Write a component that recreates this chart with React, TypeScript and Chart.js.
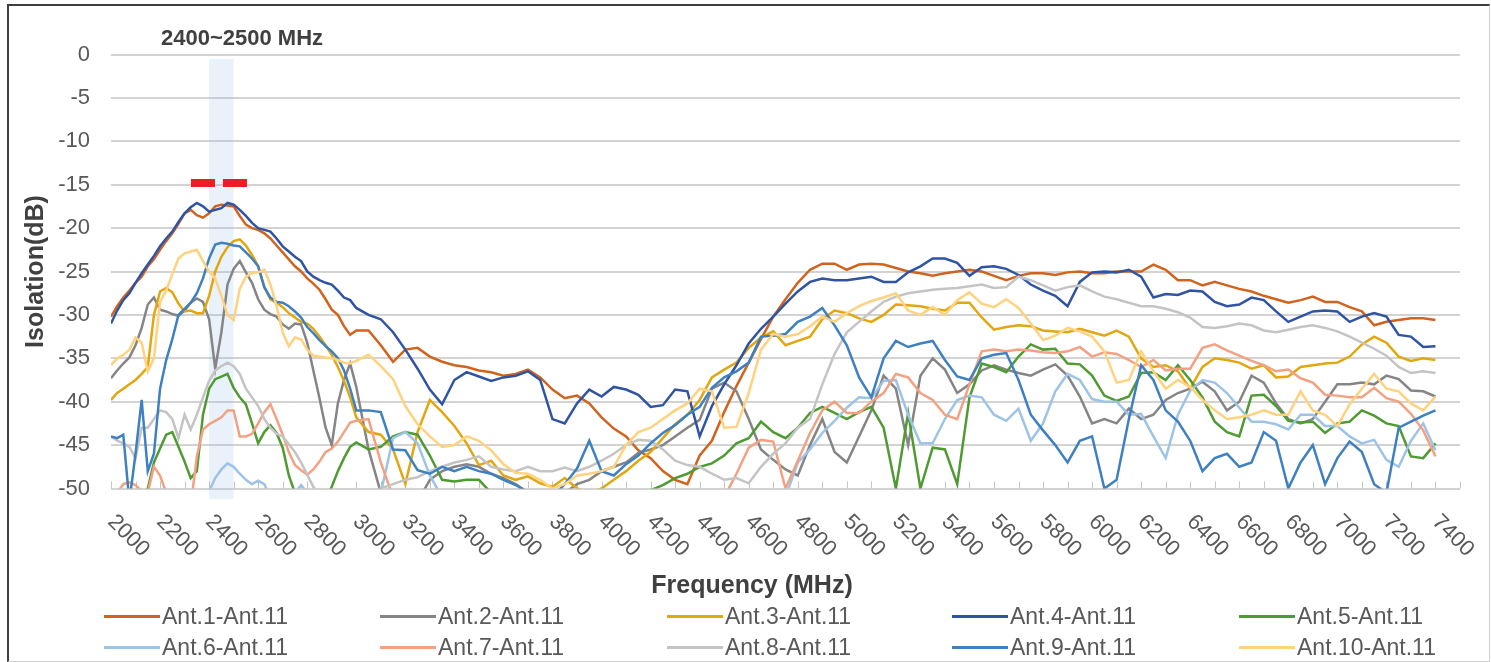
import React, { useEffect, useRef } from 'react';
import { Chart, registerables } from 'chart.js';

Chart.register(...registerables);

// ---------------- data ----------------
const FREQ_MHZ = [
  2000, 2025, 2050, 2075, 2100, 2125, 2150, 2175, 2200, 2225,
  2250, 2275, 2300, 2325, 2350, 2375, 2400, 2425, 2450, 2475,
  2500, 2525, 2550, 2575, 2600, 2625, 2650, 2675, 2700, 2725,
  2750, 2775, 2800, 2825, 2850, 2875, 2900, 2925, 2950, 2975,
  3000,
  3050, 3100, 3150, 3200, 3250, 3300, 3350, 3400, 3450,
  3500, 3550, 3600, 3650, 3700, 3750, 3800, 3850, 3900, 3950,
  4000, 4050, 4100, 4150, 4200, 4250, 4300, 4350, 4400, 4450,
  4500, 4550, 4600, 4650, 4700, 4750, 4800, 4850, 4900, 4950,
  5000, 5050, 5100, 5150, 5200, 5250, 5300, 5350, 5400, 5450,
  5500, 5550, 5600, 5650, 5700, 5750, 5800, 5850, 5900, 5950,
  6000, 6050, 6100, 6150, 6200, 6250, 6300, 6350, 6400, 6450,
  6500, 6550, 6600, 6650, 6700, 6750, 6800, 6850, 6900, 6950,
  7000, 7050, 7100, 7150, 7200, 7250, 7300, 7350, 7400,
];

const ANT1 = [
  -30.2, -29.0, -28.0, -27.2, -26.3, -25.6, -24.4, -23.6, -22.5, -21.5,
  -20.6, -19.5, -18.3, -17.9, -18.5, -18.8, -18.3, -17.5, -17.3, -17.4,
  -17.5, -18.6, -19.6, -20.0, -20.2, -20.6, -21.2, -22.0, -22.8, -23.6,
  -24.4, -25.0, -25.8, -26.4, -27.1, -28.2, -29.4, -30.0, -31.3, -32.3,
  -31.8,
  -31.8, -33.5, -35.4, -34.0, -33.8, -34.8, -35.4, -35.8, -36.0,
  -36.4, -36.6, -37.0, -36.8, -36.3, -37.2, -38.6, -39.6, -39.3, -40.2,
  -41.8, -43.1, -44.0, -45.6, -46.5, -48.0, -49.0, -49.5, -46.2, -44.5,
  -41.2, -38.2, -35.5, -32.8, -30.2, -28.2, -26.3, -24.8, -24.1, -24.1,
  -24.8, -24.2, -24.1, -24.2, -24.6, -25.0, -25.2, -25.5, -25.2, -25.0,
  -24.8, -25.0, -25.5, -26.0, -25.5, -25.2, -25.2, -25.4, -25.1, -25.0,
  -25.2, -25.2, -25.0, -25.0, -25.0, -24.2, -24.8, -26.0, -26.0, -26.6,
  -26.2, -26.6, -27.0, -27.3, -27.8, -28.2, -28.6, -28.3, -27.9, -28.5,
  -28.5, -29.1, -29.6, -31.2, -30.8, -30.6, -30.4, -30.4, -30.6,
];

const ANT2 = [
  -37.3, -36.4, -35.6, -34.9, -33.5, -31.5, -28.8, -28.0, -29.4, -29.6,
  -29.9, -30.1, -29.5, -28.6, -28.1, -28.5, -30.5, -36.2, -32.0, -26.5,
  -24.7, -23.8, -25.1, -26.3, -28.2, -29.4, -29.9, -30.2, -31.1, -31.6,
  -31.0, -31.1, -33.2, -36.4, -39.6, -43.0, -45.0, -40.2, -37.5, -35.6,
  -38.3,
  -45.5, -50.5, -52.0, -53.0, -51.5, -49.0, -48.0, -47.5, -47.2,
  -47.5, -48.3, -48.8, -49.5, -50.5, -51.0, -51.5, -50.5, -49.5, -49.0,
  -48.0, -47.5, -47.0, -45.9, -45.5, -45.0, -44.0, -43.0, -42.1, -38.5,
  -37.8, -38.8, -42.0, -45.5, -46.7, -47.8, -48.5, -45.0, -42.0, -45.8,
  -47.0, -44.0, -41.0, -37.0, -38.5, -45.0, -37.0, -35.0, -36.3, -39.0,
  -38.0, -36.4, -35.8, -36.3, -36.7, -37.0, -36.3, -35.7, -37.0, -39.4,
  -42.5, -42.0, -42.5, -40.8, -42.0, -41.5, -39.8, -39.0, -38.5, -37.7,
  -38.8, -41.0, -40.0, -37.0, -37.8, -40.2, -42.0, -42.5, -42.0, -40.0,
  -38.0, -38.0, -37.8, -38.0, -37.0, -37.4, -38.7, -38.8, -39.4,
];

const ANT3 = [
  -39.8, -39.0, -38.5, -38.0, -37.5, -36.8, -36.0, -30.0, -27.3, -26.9,
  -27.4, -28.7, -29.6, -29.5, -29.8, -29.8, -27.8, -25.0, -23.3, -22.2,
  -21.5, -21.3, -22.0, -23.1, -24.4, -26.8, -28.2, -28.6, -29.1, -29.8,
  -30.3, -30.8, -31.0, -31.6, -32.5, -33.5, -34.6, -36.0, -37.6, -39.5,
  -41.8,
  -43.5, -43.8, -45.5, -49.5, -43.5, -39.8, -41.2, -42.8, -44.8,
  -47.3, -46.8, -48.5, -49.0, -48.6, -49.4, -49.8, -48.8, -50.0, -50.5,
  -50.0, -49.0, -48.0, -46.8, -45.8, -44.2, -42.6, -41.5, -39.8, -37.2,
  -36.3, -35.5, -33.8, -32.6, -31.9, -33.5, -33.0, -32.5, -30.5, -29.5,
  -29.8, -30.4, -30.8, -30.0, -28.8, -28.9, -29.0, -29.3, -29.5, -28.6,
  -28.6, -30.3, -31.7, -31.4, -31.2, -31.3, -31.8, -31.9, -32.0, -31.6,
  -32.0, -32.4, -31.8, -32.5, -35.0, -36.0, -35.8, -36.5, -38.5, -36.0,
  -35.0, -35.2, -35.5, -36.2, -35.8, -37.2, -37.1, -36.0, -35.8, -35.6,
  -35.5, -34.8, -33.4, -32.5, -33.2, -34.8, -35.3, -35.0, -35.2,
];

const ANT4 = [
  -31.0, -29.5, -28.3, -27.5, -26.3, -25.2, -24.2, -23.2, -22.1, -21.2,
  -20.4, -19.3, -18.3, -17.6, -17.1, -17.5, -18.1, -17.9, -17.7, -17.1,
  -17.3, -17.9, -18.6, -19.4, -20.0, -20.2, -20.4, -21.2, -22.1, -22.7,
  -23.3, -23.8, -25.0, -25.6, -26.0, -26.3, -26.5, -27.2, -28.0, -28.3,
  -29.2,
  -30.0, -30.5, -32.0, -34.0, -36.2, -38.6, -40.3, -37.5, -36.6,
  -37.1, -37.6, -37.2, -37.0, -36.5, -37.5, -42.0, -42.5, -40.2, -38.6,
  -39.4, -38.3, -38.6, -39.2, -40.6, -40.4, -38.6, -38.8, -44.0, -40.5,
  -38.0, -35.8, -33.3, -31.6, -30.2, -28.7, -27.3, -26.2, -25.8, -26.0,
  -26.0, -25.8, -25.6, -26.2, -26.2, -25.1, -24.4, -23.5, -23.5, -24.0,
  -25.5, -24.5, -24.4, -24.7, -25.4, -26.5, -27.2, -27.8, -29.0, -26.2,
  -25.1, -25.0, -25.1, -24.8, -25.6, -28.0, -27.6, -27.7, -27.2, -27.3,
  -28.5, -29.0, -28.8, -28.0, -28.3, -29.6, -30.8, -30.2, -29.6, -29.5,
  -29.6, -30.8, -30.2, -29.8, -30.2, -32.3, -32.5, -33.7, -33.6,
];

const ANT5 = [
  -54.0, -54.0, -54.0, -54.0, -53.0, -52.0, -50.0, -47.0, -45.4, -43.8,
  -43.5, -45.2, -46.9, -48.8, -48.0, -41.5, -38.5, -37.4, -37.1, -36.8,
  -38.4, -39.5, -40.3, -42.5, -44.8, -43.5, -42.7, -43.6, -45.3, -48.5,
  -50.5, -52.0, -53.0, -53.0, -52.5, -51.5, -49.8, -48.0, -46.5, -45.2,
  -44.7,
  -45.5, -45.2, -44.0, -43.5, -43.8, -46.2, -49.0, -49.2, -49.0,
  -49.0, -50.5, -51.5, -52.0, -52.5, -52.5, -52.0, -51.5, -51.5, -51.0,
  -51.0, -51.0, -50.8, -50.5, -50.2, -49.6, -48.8, -48.3, -47.5, -47.1,
  -46.2, -44.8, -44.2, -42.3, -43.5, -44.2, -43.0, -41.3, -40.6, -41.3,
  -42.0, -41.2, -40.6, -43.0, -50.0, -41.3, -50.0, -45.3, -45.5, -49.5,
  -39.5, -35.6, -36.0, -36.6, -34.8, -33.4, -34.0, -33.9, -35.6, -35.7,
  -37.0, -39.3, -39.9, -39.4, -36.7, -36.6, -37.5, -35.8, -37.5, -39.5,
  -42.3, -43.5, -44.0, -39.3, -39.2, -40.5, -42.2, -42.4, -42.3, -43.6,
  -42.5, -42.3, -41.0, -41.6, -42.5, -42.8, -46.3, -46.5, -44.8,
];

const ANT6 = [
  -55.0, -55.0, -55.0, -55.0, -55.0, -55.0, -55.0, -55.0, -55.0, -55.0,
  -55.0, -55.0, -54.0, -53.0, -52.5, -52.0, -50.3, -48.8, -47.8, -47.1,
  -47.5, -48.3, -49.0, -49.5, -49.1, -49.5, -51.0, -53.0, -53.0, -52.0,
  -50.5, -49.6, -50.5, -52.0, -54.0, -54.0, -54.0, -54.0, -54.0, -54.0,
  -54.0,
  -53.0, -50.5, -44.2, -43.5, -44.8, -48.5, -51.0, -54.0, -54.0,
  -54.0, -54.0, -54.0, -54.0, -54.0, -54.0, -54.0, -54.0, -54.0, -54.0,
  -54.0, -54.0, -54.0, -54.0, -54.0, -54.0, -54.0, -54.0, -54.0, -53.0,
  -52.0, -50.5, -50.5, -51.0, -52.0, -51.0, -47.0, -45.5, -43.6, -42.2,
  -40.7, -39.5, -39.6, -37.6, -37.5, -41.5, -44.8, -44.8, -42.0, -39.8,
  -39.3, -39.5, -41.5, -42.2, -40.8, -44.5, -42.5, -38.8, -36.8, -37.5,
  -39.7, -40.0, -40.0, -41.5, -41.4, -44.0, -46.5, -41.5, -38.7, -37.5,
  -37.8, -39.0, -40.7, -42.3, -42.3, -42.6, -43.2, -41.5, -41.5, -42.8,
  -42.8, -44.0, -44.8, -44.4, -46.7, -47.5, -44.5, -42.5, -45.6,
];

const ANT7 = [
  -51.0, -50.5, -49.5, -49.3, -49.6, -50.3, -50.5, -47.5, -48.5, -50.5,
  -53.0, -54.0, -54.0, -52.0, -46.3, -43.2, -42.6, -42.2, -41.8, -41.0,
  -41.0, -44.0, -44.0, -43.7, -42.5, -41.2, -40.3, -42.0, -43.8, -45.8,
  -47.3, -47.9, -48.4, -47.8, -46.9, -45.8, -45.4, -44.6, -43.5, -42.4,
  -42.2,
  -42.0, -47.0, -51.0, -53.0, -54.0, -54.0, -54.0, -54.0, -54.0,
  -54.0, -54.0, -54.0, -54.0, -54.0, -54.0, -54.0, -54.0, -54.0, -54.0,
  -54.0, -54.0, -54.0, -54.0, -54.0, -54.0, -54.0, -54.0, -54.0, -53.0,
  -51.0, -48.3, -45.3, -44.4, -44.6, -50.0, -46.8, -43.6, -41.0, -40.0,
  -41.3, -41.3, -40.0, -39.0, -36.8, -37.2, -39.0, -39.8, -41.5, -42.0,
  -38.0, -34.2, -34.0, -34.2, -34.0, -34.1, -34.3, -34.4, -34.2, -33.7,
  -34.8, -34.3, -34.5, -35.2, -36.0, -35.2, -36.4, -36.2, -36.2, -33.8,
  -33.4, -34.1, -34.7, -35.3, -35.8, -36.5, -36.3, -37.3, -37.8, -39.2,
  -39.3, -39.5, -39.5, -38.4, -39.6, -40.0, -41.4, -43.3, -46.3,
];

const ANT8 = [
  -44.0, -44.5, -44.8, -45.2, -46.5, -43.0, -43.0, -42.0, -41.0, -41.2,
  -42.0, -44.2, -41.5, -43.2, -41.5, -39.5, -37.6, -36.4, -35.9, -35.5,
  -35.9, -36.8, -38.5, -39.5, -40.5, -42.0, -43.0, -43.7, -44.0, -44.9,
  -45.8, -47.0, -48.4, -49.8, -50.8, -51.2, -51.5, -51.2, -50.8, -50.8,
  -51.0,
  -50.5, -50.0, -49.5, -49.0, -48.7, -48.0, -47.5, -47.0, -46.7,
  -46.3, -47.5, -47.8, -48.0, -47.5, -48.0, -48.0, -47.6, -48.0, -47.5,
  -46.8, -46.0, -45.0, -44.4, -44.5, -45.5, -46.8, -47.3, -47.5, -48.3,
  -49.0, -48.8, -49.4, -47.5, -46.0, -44.8, -43.0, -42.0, -38.0, -34.5,
  -32.0, -30.8, -29.6, -28.5, -27.9, -27.5, -27.3, -27.1, -27.0, -26.9,
  -26.7, -26.5, -26.9, -26.8, -25.6, -26.0, -26.6, -27.2, -26.8, -26.6,
  -27.3, -27.9, -28.2, -28.6, -29.0, -29.0, -29.3, -29.7, -30.3, -31.4,
  -31.5, -31.3, -31.0, -31.2, -31.8, -32.0, -31.7, -31.4, -31.2, -31.5,
  -31.9, -32.5, -33.2, -33.9, -34.7, -36.0, -36.7, -36.5, -36.7,
];

const ANT9 = [
  -44.0, -44.2, -43.8, -51.5, -46.0, -39.8, -48.0, -46.0, -38.5, -35.2,
  -32.8, -30.0, -29.3, -28.6, -27.5, -25.8, -23.5, -21.9, -21.7, -21.8,
  -22.0, -22.1, -22.8, -23.5, -24.4, -26.8, -28.0, -28.5, -28.6, -29.0,
  -29.6, -30.3, -31.4, -32.1, -32.9, -33.6, -34.2, -35.0, -36.4, -38.5,
  -41.0,
  -41.0, -41.2, -45.5, -45.6, -47.9, -48.3, -47.5, -48.0, -47.5,
  -48.0, -48.3, -49.0, -49.6, -50.4, -51.0, -51.0, -49.5, -47.7, -44.5,
  -48.0, -48.5, -47.2, -46.2, -44.8, -43.6, -42.7, -41.5, -40.6, -38.4,
  -37.2, -36.5, -35.5, -32.5, -32.4, -32.2, -30.8, -30.2, -29.2, -31.2,
  -33.5, -37.2, -39.5, -35.0, -33.0, -33.7, -33.3, -33.0, -35.2, -37.1,
  -37.5, -35.0, -34.6, -34.4, -37.5, -41.5, -43.3, -45.0, -47.0, -44.5,
  -44.0, -50.0, -49.0, -42.0, -35.8, -37.5, -41.0, -42.3, -44.5, -48.0,
  -46.5, -46.0, -47.5, -47.0, -43.5, -44.5, -50.0, -47.0, -45.0, -49.5,
  -46.5, -44.6, -45.8, -49.5, -50.5, -43.0, -42.3, -41.6, -41.0,
];

const ANT10 = [
  -35.8, -35.0, -34.6, -34.0, -32.6, -33.2, -36.5, -35.0, -28.5, -27.2,
  -25.3, -23.5, -22.9, -22.7, -22.5, -23.8, -25.0, -25.8, -27.8, -30.0,
  -30.6, -27.0, -25.6, -25.2, -25.1, -24.8, -26.5, -29.0, -32.0, -33.6,
  -32.6, -32.8, -34.0, -34.7, -34.8, -34.9, -35.0, -35.2, -35.5, -35.6,
  -35.3,
  -34.6, -35.9, -37.4, -40.5, -42.6, -44.0, -45.2, -45.0, -44.0,
  -44.5, -45.6, -47.2, -48.2, -48.3, -49.0, -50.0, -49.5, -48.5, -48.3,
  -48.0, -47.5, -45.0, -43.5, -43.0, -42.0, -41.0, -40.2, -38.5, -38.8,
  -43.0, -42.9, -39.0, -34.0, -32.2, -32.5, -32.2, -31.3, -30.2, -30.8,
  -29.8, -29.0, -28.4, -28.0, -27.5, -29.5, -30.0, -29.1, -30.0, -28.3,
  -27.4, -28.7, -29.1, -28.2, -29.2, -31.0, -32.9, -32.4, -31.5, -31.9,
  -32.5, -34.2, -37.8, -37.5, -34.2, -36.5, -38.5, -37.5, -38.3, -39.8,
  -41.0, -42.0, -41.8, -41.5, -41.0, -41.5, -41.5, -38.8, -41.0, -41.5,
  -42.8, -40.3, -38.5, -36.8, -38.5, -38.8, -40.2, -41.0, -39.4,
];

const SERIES_NAMES = [
  'Ant.1-Ant.11', 'Ant.2-Ant.11', 'Ant.3-Ant.11', 'Ant.4-Ant.11', 'Ant.5-Ant.11',
  'Ant.6-Ant.11', 'Ant.7-Ant.11', 'Ant.8-Ant.11', 'Ant.9-Ant.11', 'Ant.10-Ant.11',
];
const SERIES_VALUES = [ANT1, ANT2, ANT3, ANT4, ANT5, ANT6, ANT7, ANT8, ANT9, ANT10];
const SERIES_COLORS = [
  '#D0641E', '#858585', '#E2A70F', '#2F54A4', '#4F9A32',
  '#9DC3E6', '#F2A283', '#C4C4C4', '#3F80C0', '#FFD27F',
];

const X_TICKS = [
  2000, 2200, 2400, 2600, 2800, 3000, 3200, 3400, 3600, 3800, 4000, 4200, 4400, 4600,
  4800, 5000, 5200, 5400, 5600, 5800, 6000, 6200, 6400, 6600, 6800, 7000, 7200, 7400,
];
const Y_TICKS = [0, -5, -10, -15, -20, -25, -30, -35, -40, -45, -50];

const BAND_MHZ = [2400, 2500];
const BAND_DB = [-0.5, -51.2];
const BAND_LABEL = '2400~2500 MHz';
const MARKER_MHZ = [2326, 2555];
const MARKER_DB = -14.8;

const X_TITLE = 'Frequency (MHz)';
const Y_TITLE = 'Isolation(dB)';

// legend layout (5 columns x 2 rows)
const LEGEND_COL_LEFT = [104, 380, 667, 952, 1239];
const LEGEND_ROW_TOP = [601, 632];

// ---------------- drawing ----------------
const FONT = '"Liberation Sans", Arial, sans-serif';

const decorPlugin = {
  id: 'decor',
  beforeDatasetsDraw(chart: any) {
    const { ctx, chartArea } = chart;
    const x = chart.scales.x;
    const y = chart.scales.y;
    ctx.save();
    const bx0 = x.getPixelForValue(BAND_MHZ[0]);
    const bx1 = x.getPixelForValue(BAND_MHZ[1]);
    const by0 = y.getPixelForValue(BAND_DB[0]);
    const by1 = y.getPixelForValue(BAND_DB[1]);
    ctx.fillStyle = 'rgba(157,195,230,0.22)';
    ctx.fillRect(bx0, by0, bx1 - bx0, by1 - by0);

    ctx.strokeStyle = '#C4C4C4';
    ctx.lineWidth = 1;
    for (let v = x.min; v <= x.max + 0.1; v += 100) {
      const px = Math.round(x.getPixelForValue(v)) + 0.5;
      ctx.beginPath();
      ctx.moveTo(px, chartArea.bottom - 7);
      ctx.lineTo(px, chartArea.bottom);
      ctx.stroke();
    }
    ctx.restore();
  },
  afterDraw(chart: any) {
    const { ctx, chartArea } = chart;
    const x = chart.scales.x;
    const y = chart.scales.y;
    ctx.save();
    ctx.fillStyle = '#595959';
    ctx.font = `22px ${FONT}`;
    ctx.textAlign = 'right';
    ctx.textBaseline = 'middle';
    Y_TICKS.forEach((v) => {
      ctx.fillText(String(v), chartArea.left - 21, y.getPixelForValue(v));
    });
    ctx.textAlign = 'left';
    X_TICKS.forEach((v) => {
      ctx.save();
      ctx.translate(x.getPixelForValue(v), chartArea.bottom + 30);
      ctx.rotate(Math.PI / 4);
      ctx.fillText(String(v), 0, 0);
      ctx.restore();
    });
    ctx.fillStyle = '#404040';
    ctx.font = `bold 25px ${FONT}`;
    ctx.textAlign = 'center';
    ctx.fillText(X_TITLE, 752, 586);
    ctx.save();
    ctx.translate(36, (chartArea.top + chartArea.bottom) / 2);
    ctx.rotate(-Math.PI / 2);
    ctx.fillText(Y_TITLE, 0, 0);
    ctx.restore();
    ctx.font = `bold 22px ${FONT}`;
    ctx.textAlign = 'left';
    ctx.fillText(BAND_LABEL, 161, 39);
    ctx.restore();
  },
};

export default function App() {
  const ref = useRef<HTMLCanvasElement>(null);

  useEffect(() => {
    const canvas = ref.current;
    if (!canvas) return;
    const datasets: any[] = SERIES_VALUES.map((vals, i) => ({
      label: SERIES_NAMES[i],
      data: FREQ_MHZ.map((f, k) => ({ x: f, y: vals[k] })),
      borderColor: SERIES_COLORS[i],
      backgroundColor: SERIES_COLORS[i],
      borderWidth: 2.5,
      pointRadius: 0,
      tension: 0,
      order: SERIES_VALUES.length - i,
    }));
    datasets.push({
      label: 'limit',
      data: MARKER_MHZ.map((f) => ({ x: f, y: MARKER_DB })),
      borderColor: '#EE1C24',
      borderWidth: 8,
      borderDash: [24, 8],
      borderCapStyle: 'butt',
      pointRadius: 0,
      order: -1,
    });

    const chart = new Chart(canvas, {
      type: 'line',
      data: { datasets },
      options: {
        responsive: false,
        animation: false,
        devicePixelRatio: 1,
        layout: { padding: { left: 0, top: 54.5, right: 31, bottom: 173.5 } },
        plugins: {
          legend: { display: false },
          tooltip: { enabled: false },
        },
        scales: {
          x: {
            type: 'linear',
            min: 2000,
            max: 7500,
            ticks: { display: false },
            grid: { display: false },
            border: { display: false },
            afterFit: (s: any) => { s.height = 0; },
          },
          y: {
            min: -50,
            max: 0,
            ticks: { display: false, stepSize: 5 },
            grid: { color: '#D3D3D3', lineWidth: 2, drawTicks: false },
            border: { display: false },
            afterFit: (s: any) => { s.width = 111; },
          },
        },
      },
      plugins: [decorPlugin],
    } as any);
    return () => chart.destroy();
  }, []);

  return (
    <div style={{ position: 'fixed', left: 0, top: 0, width: 1491, height: 662, background: '#fff', overflow: 'hidden' }}>
      <canvas ref={ref} width={1491} height={662} style={{ position: 'absolute', left: 0, top: 0, width: 1491, height: 662 }} />
      <div
        style={{
          position: 'absolute', left: 7, top: 4, width: 1480, height: 655,
          borderLeft: '2px solid #3F3F3F', borderTop: '2px solid #3F3F3F',
          borderRight: '1px solid #D0D0D0', borderBottom: '1px solid #D0D0D0',
          pointerEvents: 'none',
        }}
      />
      {SERIES_NAMES.map((name, i) => (
        <div
          key={name}
          style={{
            position: 'absolute',
            left: LEGEND_COL_LEFT[i % 5],
            top: LEGEND_ROW_TOP[Math.floor(i / 5)],
            height: 31,
            display: 'flex', alignItems: 'center', whiteSpace: 'nowrap',
            fontFamily: FONT, fontSize: 23, color: '#595959',
          }}
        >
          <span style={{ display: 'inline-block', width: 56, height: 3, background: SERIES_COLORS[i], marginRight: 2 }} />
          <span style={{ lineHeight: '31px' }}>{name}</span>
        </div>
      ))}
    </div>
  );
}
